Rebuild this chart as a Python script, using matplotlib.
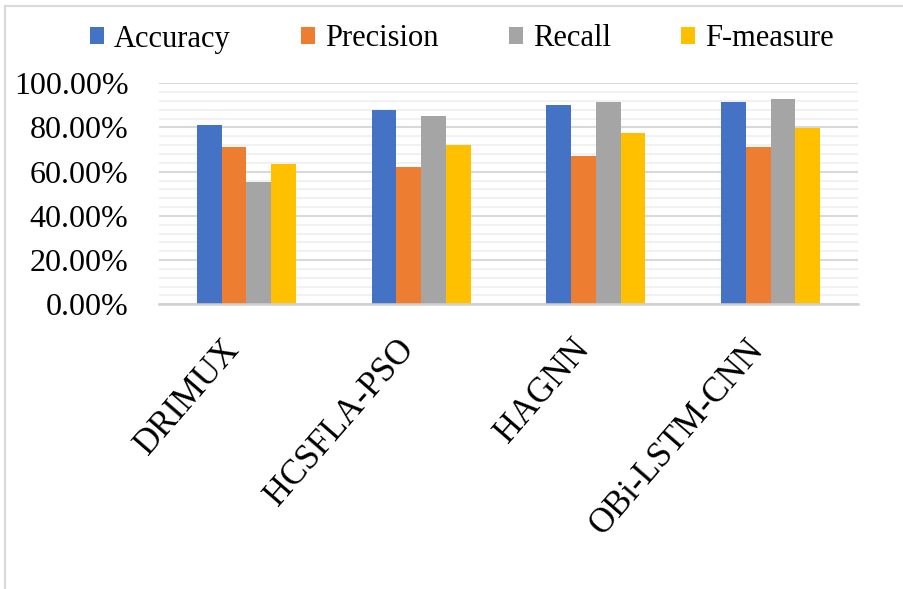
import matplotlib
matplotlib.use("Agg")
import matplotlib.pyplot as plt
import numpy as np
from matplotlib.ticker import MultipleLocator, PercentFormatter
from matplotlib.lines import Line2D

methods = ["DRIMUX", "HCSFLA-PSO", "HAGNN", "OBi-LSTM-CNN"]
series_names = ["Accuracy", "Precision", "Recall", "F-measure"]
accuracy = [81.2, 87.7, 90.3, 91.5]
precision = [71.0, 61.9, 67.1, 71.0]
recall = [55.4, 85.0, 91.5, 92.7]
f_measure = [63.3, 72.2, 77.5, 79.9]
colors = ["#4472C4", "#ED7D31", "#A5A5A5", "#FFC000"]

plt.rcParams["font.family"] = ["Liberation Serif", "DejaVu Serif"]

fig = plt.figure(figsize=(9.04, 5.89), dpi=100)
ax = fig.add_axes([0.176, 0.4834, 0.773, 0.3752])

x = np.arange(len(methods))
bar_w = 0.142
values = [accuracy, precision, recall, f_measure]
for i, (name, vals, c) in enumerate(zip(series_names, values, colors)):
    ax.bar(x + (i - 1.5) * bar_w, vals, bar_w, color=c, label=name, zorder=3)

ax.set_xlim(-0.5, len(methods) - 0.5)
ax.set_ylim(0, 100)
ax.yaxis.set_major_locator(MultipleLocator(20))
ax.yaxis.set_minor_locator(MultipleLocator(4))
ax.yaxis.set_major_formatter(PercentFormatter(decimals=2))
ax.grid(axis="y", which="major", color="#d9d9d9", linewidth=1.5, zorder=0)
ax.grid(axis="y", which="minor", color="#efefef", linewidth=1.2, zorder=0)

for side in ["top", "right", "left"]:
    ax.spines[side].set_visible(False)
ax.spines["bottom"].set_color("#d0d0d0")
ax.spines["bottom"].set_linewidth(1.8)
ax.spines["bottom"].set_zorder(4)

ax.tick_params(axis="y", which="both", length=0, pad=22, labelsize=23)
ax.tick_params(axis="x", length=0, pad=21, labelsize=25)
ax.set_xticks(x)
ax.set_xticklabels(methods, rotation=49, ha="right", va="top")

fig.legend(loc="center", bbox_to_anchor=(462 / 904, 1 - 39 / 589), ncol=4,
           frameon=False, fontsize=22, handlelength=0.46, handleheight=0.49,
           handletextpad=0.33, columnspacing=2.3)

# light chart-area border on the left and top edges
fig.add_artist(Line2D([5 / 904, 5 / 904], [0, 1 - 6 / 589], transform=fig.transFigure,
                      color="#d9d9d9", linewidth=1.5))
fig.add_artist(Line2D([5 / 904, 1], [1 - 6 / 589, 1 - 6 / 589], transform=fig.transFigure,
                      color="#d9d9d9", linewidth=1.5))

fig.savefig("out.png", dpi=100)
